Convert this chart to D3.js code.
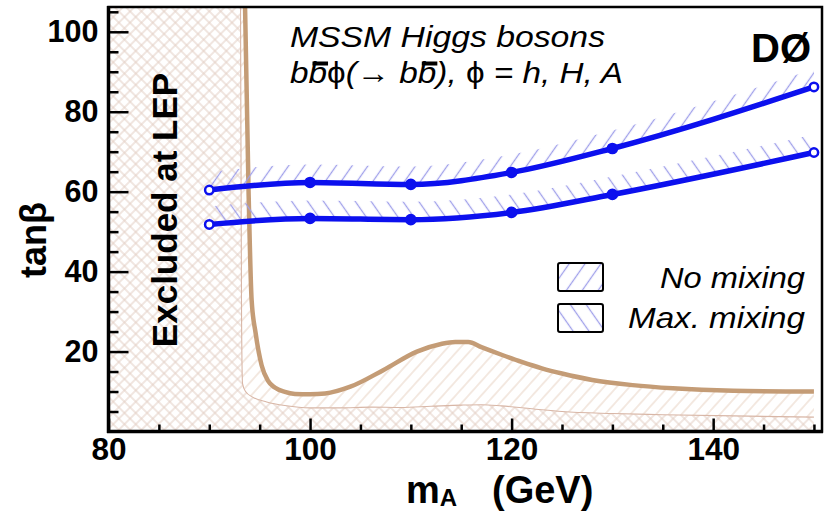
<!DOCTYPE html>
<html><head><meta charset="utf-8">
<script src="https://cdn.jsdelivr.net/npm/d3@7/dist/d3.min.js"></script>
<style>
html,body{margin:0;padding:0;background:#fff;}
svg{display:block;}
text{font-family:"Liberation Sans",Arial,Helvetica,sans-serif;}
</style>
</head><body>
<svg id="chart" width="827" height="512"></svg>
<script>
// ---- data ----
const massPoints = [90, 100, 110, 120, 130, 150];
const noMixing   = [60.4, 62.3, 61.8, 64.8, 70.8, 86.2];
const maxMixing  = [51.8, 53.3, 53.0, 54.8, 59.3, 69.8];

const observedMass = [93.55, 93.9, 94.2, 94.6, 95.2, 95.8, 96.5, 97.5, 98.5, 100, 101.5, 104, 107.3, 110.6, 113, 114.4, 115.7, 117, 119, 121, 123, 125, 128, 132, 136, 142, 150];
const observedTanb = [106.2, 60, 33, 24.6, 16.5, 12.8, 11.0, 9.9, 9.4, 9.3, 9.5, 11.2, 15.4, 20, 21.9, 22.4, 22.4, 21.1, 19.2, 17.4, 15.8, 14.5, 12.9, 11.6, 10.8, 10.2, 10.0];

const lepMass = [93.1, 93.2, 93.3, 93.6, 94.3, 95.7, 97.5, 100, 103, 106, 109, 112, 115, 117, 119, 122, 125, 130, 135, 142, 150];
const lepTanb = [106.2, 30, 12, 10.0, 8.6, 7.4, 6.5, 5.9, 5.9, 6.1, 6.0, 6.3, 6.6, 6.7, 6.4, 5.7, 5.0, 4.5, 4.2, 3.9, 3.6];

const xMajorTicks = [80, 100, 120, 140];
const xMinorTicks = [85, 90, 95, 105, 110, 115, 125, 130, 135, 145, 150];
const yMajorTicks = [20, 40, 60, 80, 100];
const yMinorTicks = [5, 10, 15, 25, 30, 35, 45, 50, 55, 65, 70, 75, 85, 90, 95, 105];
const legendLabels = ["No mixing", "Max. mixing"];
const yLabel = "tanβ";
const lepLabel = "Excluded at LEP";
const titleLine1 = "MSSM Higgs bosons";
const experiment = "DØ";

// ---- layout ----
const L = 108.5, R = 822, T = 7, B = 431.5;
const x = d3.scaleLinear().domain([80, 150.8]).range([L, R]);
const y = d3.scaleLinear().domain([0, 106.2]).range([B, T]);

const svg = d3.select("#chart");
const defs = svg.append("defs");
defs.append("clipPath").attr("id", "plotclip")
  .append("rect").attr("x", L).attr("y", T).attr("width", R - L).attr("height", B - T);

function hatch(id, angle, spacing, color, width, cross) {
  const p = defs.append("pattern").attr("id", id)
    .attr("patternUnits", "userSpaceOnUse")
    .attr("width", spacing).attr("height", spacing)
    .attr("patternTransform", `rotate(${angle})`);
  p.append("line").attr("x1", spacing / 2).attr("y1", -1).attr("x2", spacing / 2).attr("y2", spacing + 1)
    .attr("stroke", color).attr("stroke-width", width);
  if (cross) {
    p.append("line").attr("x1", -1).attr("y1", spacing / 2).attr("x2", spacing + 1).attr("y2", spacing / 2)
      .attr("stroke", color).attr("stroke-width", width);
  }
}
hatch("crossHatch", 45, 8, "#e2cdc2", 1, true);
hatch("d0Hatch", 42, 9.5, "#e8d3c4", 1, false);
hatch("blueFwd", 35, 13, "#a0a0ea", 1.3, false);
hatch("blueBack", -35, 13, "#a0a0ea", 1.3, false);

const plot = svg.append("g").attr("clip-path", "url(#plotclip)");

const obsPts = observedMass.map((m, i) => [x(m), y(observedTanb[i])]);
const lepPts = lepMass.map((m, i) => [x(m), y(lepTanb[i])]);
const smooth = d3.line().curve(d3.curveMonotoneX);
const obsPath = smooth(obsPts);
const lepPath = smooth(lepPts);

// D0 excluded region (below observed curve)
plot.append("path")
  .attr("d", `M${x(80)},${y(106.2)}L${obsPath.slice(1)}L${x(150)},${y(0)}L${x(80)},${y(0)}Z`)
  .attr("fill", "url(#d0Hatch)");
// LEP excluded region
const lepRegion = `M${x(80)},${y(106.2)}L${lepPath.slice(1)}L${x(150)},${y(0)}L${x(80)},${y(0)}Z`;
plot.append("path").attr("d", lepRegion).attr("fill", "#fff");
plot.append("path").attr("d", lepRegion).attr("fill", "url(#crossHatch)");
plot.append("path").attr("d", lepPath).attr("fill", "none")
  .attr("stroke", "#d8b6a6").attr("stroke-width", 1.1);
plot.append("path").attr("d", obsPath).attr("fill", "none")
  .attr("stroke", "#c49c76").attr("stroke-width", 4.5);

// blue expected-exclusion curves with hatched bands
const series = [
  { vals: noMixing, fill: "url(#blueFwd)" },
  { vals: maxMixing, fill: "url(#blueBack)" }
];
const band = d3.area().curve(d3.curveMonotoneX)
  .x(d => x(d.m)).y0(d => y(d.v)).y1(d => y(d.v) - 18);
const bline = d3.line().curve(d3.curveMonotoneX).x(d => x(d.m)).y(d => y(d.v));
series.forEach(s => {
  const pts = massPoints.map((m, i) => ({ m: m, v: s.vals[i] }));
  plot.append("path").attr("d", band(pts)).attr("fill", s.fill);
});
series.forEach(s => {
  const pts = massPoints.map((m, i) => ({ m: m, v: s.vals[i] }));
  plot.append("path").attr("d", bline(pts)).attr("fill", "none")
    .attr("stroke", "#0c10ee").attr("stroke-width", 5.5).attr("stroke-linecap", "round");
  plot.selectAll(null).data(pts).enter().append("circle")
    .attr("cx", d => x(d.m)).attr("cy", d => y(d.v))
    .attr("r", (d, i) => (i === 0 || i === pts.length - 1) ? 4.2 : 4.6)
    .attr("fill", (d, i) => (i === 0 || i === pts.length - 1) ? "#fff" : "#0c10ee")
    .attr("stroke", "#0c10ee").attr("stroke-width", 2.5);
});

// ---- axes ----
function styleAxis(g, size) {
  g.select(".domain").remove();
  g.selectAll(".tick line").attr("stroke", "#000").attr("stroke-width", 2.5);
  g.selectAll("text").attr("fill", "#000").attr("font-size", size)
    .attr("font-weight", "bold").attr("font-family", '"Liberation Sans",Arial,sans-serif');
}
const yMinor = svg.append("g").attr("transform", `translate(${L},0)`)
  .call(d3.axisLeft(y).tickValues(yMinorTicks).tickSize(-10).tickFormat(""));
styleAxis(yMinor, 30);
const yMajor = svg.append("g").attr("transform", `translate(${L},0)`)
  .call(d3.axisLeft(y).tickValues(yMajorTicks).tickSize(-20).tickPadding(10));
styleAxis(yMajor, 30.5);
const xMinor = svg.append("g").attr("transform", `translate(0,${B})`)
  .call(d3.axisBottom(x).tickValues(xMinorTicks).tickSize(-7).tickFormat(""));
styleAxis(xMinor, 31);
const xMajor = svg.append("g").attr("transform", `translate(0,${B})`)
  .call(d3.axisBottom(x).tickValues(xMajorTicks).tickSize(-13).tickPadding(6.5));
styleAxis(xMajor, 31.5);

// frame
svg.append("rect").attr("x", L).attr("y", T).attr("width", R - L).attr("height", B - T)
  .attr("fill", "none").attr("stroke", "#000").attr("stroke-width", 2.5);
svg.append("line").attr("x1", L).attr("x2", L).attr("y1", T - 1).attr("y2", B + 1.5)
  .attr("stroke", "#000").attr("stroke-width", 3.5);
svg.append("line").attr("x1", L - 1.5).attr("x2", R + 1).attr("y1", B).attr("y2", B)
  .attr("stroke", "#000").attr("stroke-width", 3.5);

// ---- axis titles ----
svg.append("text").attr("transform", "translate(46,240) rotate(-90)")
  .attr("text-anchor", "middle").attr("font-size", 36).attr("font-weight", "bold")
  .text(yLabel);

const xt = svg.append("text").attr("x", 406).attr("y", 503)
  .attr("font-size", 38).attr("font-weight", "bold");
xt.append("tspan").text("m");
xt.append("tspan").attr("font-size", 24).attr("dy", 3).text("A");
xt.append("tspan").attr("x", 492).attr("dy", -3).text("(GeV)");

svg.append("text").attr("transform", "translate(177,210) rotate(-90)")
  .attr("text-anchor", "middle").attr("font-size", 35).attr("font-weight", "bold")
  .text(lepLabel);

// ---- annotations ----
svg.append("text").attr("x", 290).attr("y", 47).attr("font-size", 30)
  .attr("font-style", "italic").attr("textLength", 315).attr("lengthAdjust", "spacingAndGlyphs")
  .text(titleLine1);

const t2 = svg.append("text").attr("x", 290).attr("y", 83).attr("font-size", 30)
  .attr("textLength", 333).attr("lengthAdjust", "spacingAndGlyphs");
const parts = [["bb", "italic"], ["\u03D5", "normal"], ["(", "italic"], ["\u2192", "normal"],
  [" bb), ", "italic"], ["\u03D5", "normal"], [" = h, H, A", "italic"]];
parts.forEach(p => t2.append("tspan").attr("font-style", p[1]).text(p[0]));
[1, 7].forEach(ci => {
  let bx, bw;
  try {
    const e = t2.node().getExtentOfChar(ci);
    bx = e.x + 4; bw = e.width - 3;
  } catch (err) { bx = ci === 1 ? 307 : 420; bw = 13; }
  svg.append("rect").attr("x", bx).attr("y", 61.5).attr("width", bw).attr("height", 4).attr("fill", "#000");
});

svg.append("text").attr("x", 811).attr("y", 62).attr("text-anchor", "end")
  .attr("font-size", 40).attr("font-weight", "bold").text(experiment);

// ---- legend ----
const legend = svg.append("g");
const legFills = ["url(#blueFwd)", "url(#blueBack)"];
const legY = [263, 304];
const legTextY = [288, 328];
const legTextW = [145, 177];
legendLabels.forEach((lab, i) => {
  legend.append("rect").attr("x", 558).attr("y", legY[i]).attr("width", 45).attr("height", 28)
    .attr("rx", 2).attr("fill", "#fff");
  legend.append("rect").attr("x", 558).attr("y", legY[i]).attr("width", 45).attr("height", 28)
    .attr("rx", 2).attr("fill", legFills[i]).attr("stroke", "#000").attr("stroke-width", 2);
  legend.append("text").attr("x", 805).attr("y", legTextY[i]).attr("text-anchor", "end")
    .attr("font-size", 29).attr("font-style", "italic")
    .attr("textLength", legTextW[i]).attr("lengthAdjust", "spacingAndGlyphs").text(lab);
});
</script>
</body></html>
